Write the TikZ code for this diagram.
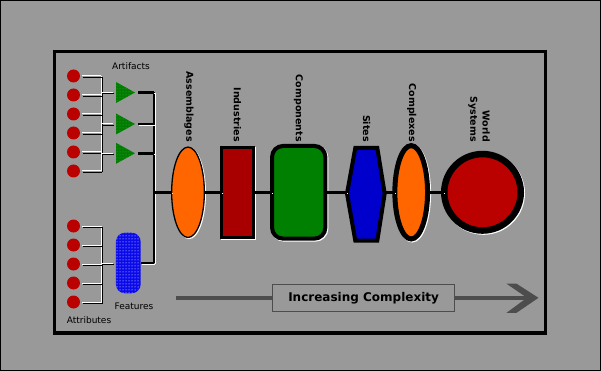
\documentclass[tikz,border=0pt]{standalone}
\usepackage{fontspec}
\setmainfont{DejaVu Sans}
\usetikzlibrary{shapes.geometric,patterns}
\definecolor{bg}{RGB}{153,153,153}
\definecolor{dotred}{RGB}{187,0,0}
\definecolor{indred}{RGB}{168,0,0}
\definecolor{worldred}{RGB}{187,0,0}
\definecolor{orng}{RGB}{255,102,0}
\definecolor{grn}{RGB}{0,128,0}
\definecolor{trigrn}{RGB}{0,125,0}
\definecolor{trigdot}{RGB}{70,170,70}
\definecolor{siteblue}{RGB}{0,0,204}
\definecolor{featblue}{RGB}{10,10,235}
\definecolor{dith}{RGB}{77,77,77}
\begin{document}
\begin{tikzpicture}[x=1pt,y=-1pt,
  shsh/.style={preaction={draw=white,fill=white,transform canvas={shift={(1pt,-1pt)}}}},
  lnsh/.style={preaction={draw=white,transform canvas={shift={(1pt,-1pt)}}}},
  thinln/.style={draw=white,line width=1pt,preaction={draw=black,transform canvas={shift={(1pt,-1pt)}}}},
  thickln/.style={draw=black,line width=2.5pt,lnsh},
  dotn/.style={circle,fill=dotred,minimum size=13pt,inner sep=0pt},
  shp/.style={inner sep=0pt,outer sep=0pt,draw=black,shsh},
  vlabel/.style={rotate=-90,anchor=east,inner sep=0pt,font=\fontsize{9.5}{12.3}\selectfont\bfseries},
  slabel/.style={anchor=base,inner sep=0pt,font=\fontsize{9}{11}\selectfont},
  dithln/.style={draw=dith,line width=4pt}
]
\useasboundingbox (0,0) rectangle (601,371);
\fill[bg] (0,0) rectangle (601,371);
\draw[black,line width=1pt] (0.5,0.5) rectangle (600.5,370.5);
\draw[black,line width=3.3pt] (54.7,51.7) rectangle (545.6,333.1);

% artifact dots
\foreach \i/\y in {1/76,2/95,3/114,4/133,5/152,6/171}
  \node[dotn] (a\i) at (73.5,\y) {};
% attribute dots
\foreach \i/\y in {1/226,2/245,3/264,4/283,5/302}
  \node[dotn] (b\i) at (73.5,\y) {};

% triangles (artifact types)
\foreach \i/\y in {1/92.5,2/124,3/153.3}{
  \fill[trigrn,postaction={pattern=dots,pattern color=trigdot}] (116,\y-10.5) -- (116,\y+10.5) -- (135,\y) -- cycle;
  \coordinate (t\i in) at (116,\y);
  \coordinate (t\i out) at (135,\y);
}

% features
\node[rectangle,rounded corners=9pt,fill=featblue,minimum width=24.7pt,minimum height=60.6pt,inner sep=0pt,
  postaction={pattern=dots,pattern color=white}] (feat) at (128.3,263) {};

% bus coordinates
\coordinate (abt) at (101,76);
\coordinate (abb) at (101,171);
\coordinate (bbt) at (101.5,226);
\coordinate (bbb) at (101.5,302);
\coordinate (jtop) at (154,92.5);
\coordinate (jbot) at (154,263);
\coordinate (jmid) at (154,192.3);

% thin connectors
\draw[thinln] (abt) -- (abb);
\foreach \i in {1,...,6} \draw[thinln,shorten <=2pt] (a\i) -- (a\i -| abt);
\foreach \i in {1,2,3} \draw[thinln,shorten >=3pt] (abt |- t\i in) -- (t\i in);
\draw[thinln] (bbt) -- (bbb);
\foreach \i in {1,...,5} \draw[thinln,shorten <=2pt] (b\i) -- (b\i -| bbt);
\draw[thinln,shorten >=3pt] (bbt |- feat.west) -- (feat.west);

% thick connectors
\draw[thickln] (jtop) -- (jbot);
\foreach \i in {1,2,3} \draw[thickln,shorten <=3pt] (t\i out) -- (t\i out -| jtop);
\draw[thickln] (feat.east) -- (jbot);

% main shapes
\node[shp,ellipse,line width=1.3pt,fill=orng,minimum width=32.7pt,minimum height=90.4pt] (asm) at (188,192.3) {};
\node[shp,rectangle,line width=3pt,fill=indred,minimum width=32pt,minimum height=90.3pt] (ind) at (237.5,192.3) {};
\node[shp,rectangle,rounded corners=11pt,line width=4pt,fill=grn,minimum width=53.3pt,minimum height=92.7pt] (comp) at (298.7,192.3) {};
\draw[line width=4pt,fill=siteblue,shsh,line join=miter] (355.3,148) -- (377.3,148) -- (384.7,193.5) -- (377.3,240.7) -- (355.3,240.7) -- (347,193.5) -- cycle;
\coordinate (sitesW) at (347,192.3);
\coordinate (sitesE) at (384.7,192.3);
\node[shp,ellipse,line width=5pt,fill=orng,minimum width=32.7pt,minimum height=93.4pt] (cplx) at (411.2,192.3) {};
\node[shp,circle,line width=6.5pt,fill=worldred,minimum size=76.5pt] (world) at (482.5,192.3) {};

\draw[thickln] (jmid) -- (asm.west);
\draw[thickln] (asm.east) -- (ind.west);
\draw[thickln] (ind.east) -- (comp.west);
\draw[thickln] (comp.east) -- (sitesW);
\draw[thickln] (sitesE) -- (cplx.west);
\draw[thickln] (cplx.east) -- (world.west);

% vertical labels
\node[vlabel] (lasm) at (189,142) {Assemblages};
\node[vlabel] (lind) at (237.5,142) {Industries};
\node[vlabel] (lcomp) at (298.5,142) {Components};
\node[vlabel] (lsites) at (366.7,142) {Sites};
\node[vlabel] (lcplx) at (411.7,142) {Complexes};
\node[vlabel,align=right] (lworld) at (479,142) {World\\Systems};

% small labels
\node[slabel] (lart) at (131,70) {Artifacts};
\node[slabel] (lfeat) at (134,309.5) {Features};
\node[slabel] (lattr) at (89,323.5) {Attributes};

% increasing complexity arrow
\coordinate (arrS) at (176,297.8);
\node[draw=dith,line width=1pt,fill=bg,minimum width=181.7pt,minimum height=26.5pt,inner sep=0pt,
  font=\fontsize{12}{14}\selectfont\bfseries] (icb) at (363.6,297.8) {Increasing Complexity};
\fill[dith] (506.5,283.7) -- (516.5,283.7) -- (538.5,297.8) -- (516.5,312.8) -- (506.5,312.8) -- (527,297.8) -- cycle;
\coordinate (arrH) at (527,297.8);
\draw[dithln] (arrS) -- (icb.west);
\draw[dithln] (icb.east) -- (arrH);
\end{tikzpicture}
\end{document}
